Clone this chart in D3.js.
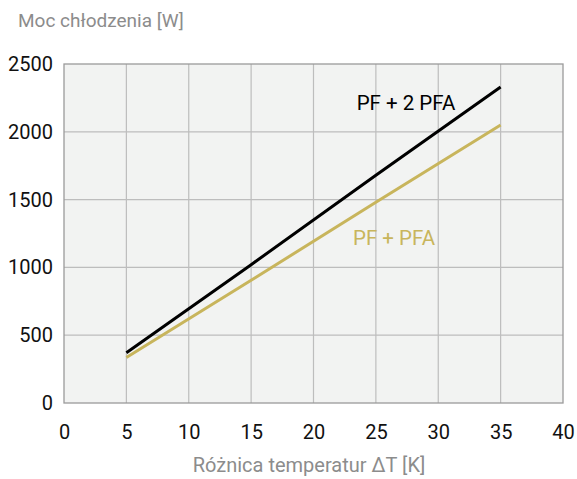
<!DOCTYPE html>
<html lang="pl">
<head>
<meta charset="UTF-8">
<title>Moc chłodzenia</title>
<style>
  body { margin: 0; background: #ffffff; }
  svg { display: block; }
  text { font-family: Roboto, "Liberation Sans", sans-serif; }
</style>
</head>
<body>
<script src="https://d3js.org/d3.v7.min.js"></script>
<script>
const width = 577;
const height = 479;

// data
const deltaT = [5, 15, 25, 35];
const pf2pfa = [370, 1020, 1680, 2330];
const pfpfa = [335, 905, 1480, 2050];
const xTicks = [0, 5, 10, 15, 20, 25, 30, 35, 40];
const yTicks = [0, 500, 1000, 1500, 2000, 2500];

const margin = { left: 64, right: 14, top: 64, bottom: 76 };

const svg = d3.select("body").append("svg")
    .attr("width", width)
    .attr("height", height);

const x = d3.scaleLinear().domain([0, 40]).range([margin.left, width - margin.right]);
const y = d3.scaleLinear().domain([0, 2500]).range([height - margin.bottom, margin.top]);

// plot background
svg.append("rect")
    .attr("x", x(0)).attr("y", y(2500))
    .attr("width", x(40) - x(0)).attr("height", y(0) - y(2500))
    .attr("fill", "#f2f3f2");

// grid
svg.append("g")
    .selectAll("line")
    .data(xTicks.slice(1, -1))
    .join("line")
    .attr("x1", d => x(d)).attr("x2", d => x(d))
    .attr("y1", y(0)).attr("y2", y(2500))
    .attr("stroke", "#bdbdbd").attr("stroke-width", 1.2);

svg.append("g")
    .selectAll("line")
    .data(yTicks.slice(1, -1))
    .join("line")
    .attr("x1", x(0)).attr("x2", x(40))
    .attr("y1", d => y(d)).attr("y2", d => y(d))
    .attr("stroke", "#bdbdbd").attr("stroke-width", 1.2);

// frame
svg.append("rect")
    .attr("x", x(0)).attr("y", y(2500))
    .attr("width", x(40) - x(0)).attr("height", y(0) - y(2500))
    .attr("fill", "none")
    .attr("stroke", "#9a9a9a").attr("stroke-width", 1.3);

// axes
const xAxis = svg.append("g")
    .attr("transform", `translate(0,${y(0)})`)
    .call(d3.axisBottom(x).tickValues(xTicks).tickFormat(d3.format("d")).tickSize(0).tickPadding(22));
const yAxis = svg.append("g")
    .attr("transform", `translate(${x(0)},0)`)
    .call(d3.axisLeft(y).tickValues(yTicks).tickFormat(d3.format("d")).tickSize(0).tickPadding(11));

[xAxis, yAxis].forEach(g => {
    g.select(".domain").remove();
    g.selectAll("text")
        .attr("font-family", "Roboto, sans-serif")
        .attr("font-size", 20)
        .attr("fill", "#111");
});

// lines
const line = d3.line()
    .x((d, i) => x(deltaT[i]))
    .y(d => y(d));

svg.append("path")
    .datum(pfpfa)
    .attr("d", line)
    .attr("fill", "none")
    .attr("stroke", "#c8b55c")
    .attr("stroke-width", 3);

svg.append("path")
    .datum(pf2pfa)
    .attr("d", line)
    .attr("fill", "none")
    .attr("stroke", "#000")
    .attr("stroke-width", 3);

// series labels
svg.append("text")
    .attr("x", 406).attr("y", 110)
    .attr("text-anchor", "middle")
    .attr("font-size", 20.5)
    .attr("fill", "#000")
    .text("PF + 2 PFA");

svg.append("text")
    .attr("x", 394).attr("y", 245)
    .attr("text-anchor", "middle")
    .attr("font-size", 20.5)
    .attr("fill", "#c8b55c")
    .text("PF + PFA");

// axis titles
svg.append("text")
    .attr("x", 18).attr("y", 27)
    .attr("font-size", 19)
    .attr("fill", "#8c8c8c")
    .text("Moc chłodzenia [W]");

svg.append("text")
    .attr("x", 309).attr("y", 472)
    .attr("text-anchor", "middle")
    .attr("font-size", 20)
    .attr("fill", "#8c8c8c")
    .text("Różnica temperatur ΔT [K]");
</script>
</body>
</html>
